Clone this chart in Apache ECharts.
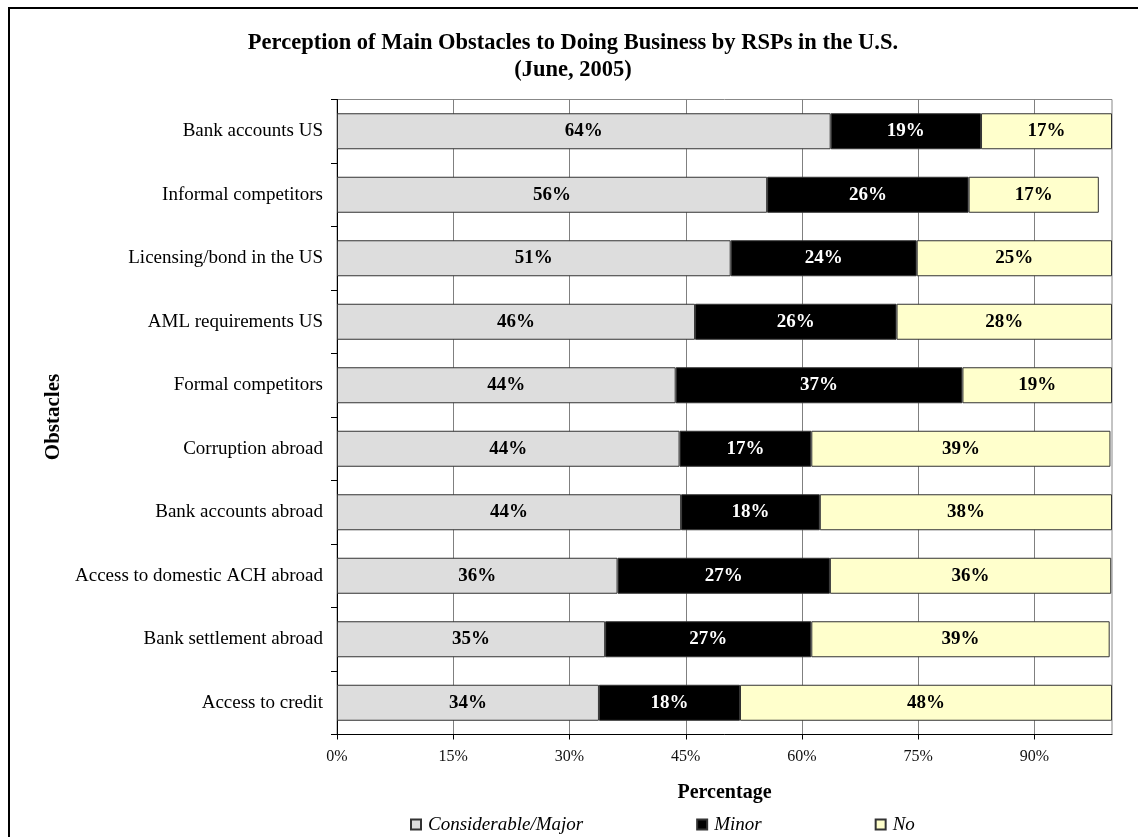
<!DOCTYPE html>
<html>
<head>
<meta charset="utf-8">
<script src="https://cdn.jsdelivr.net/npm/echarts@6/dist/echarts.min.js"></script>
<style>
html,body{margin:0;padding:0;background:#fff;}
#c{width:1138px;height:837px;}
</style>
</head>
<body>
<div id="c"></div>
<script>
const categories = ["Bank accounts US","Informal competitors","Licensing/bond in the US","AML requirements US","Formal competitors","Corruption abroad","Bank accounts abroad","Access to domestic ACH abroad","Bank settlement abroad","Access to credit"];
const considerable = [63.7, 55.5, 50.8, 46.2, 43.7, 44.2, 44.4, 36.2, 34.6, 33.8];
const minor = [19.4, 26.0, 24.0, 26.0, 37.0, 17.0, 17.9, 27.4, 26.6, 18.2];
const no = [16.9, 16.8, 25.2, 27.8, 19.3, 38.6, 37.7, 36.3, 38.5, 48.0];
const xTicks = [0, 15, 30, 45, 60, 75, 90];

const serif = '"Liberation Serif","Times New Roman",serif';
const chart = echarts.init(document.getElementById('c'), null, {renderer:'canvas'});

function seriesOf(name, data, color, textColor){
  return {
    name: name, type: 'bar', stack: 'total', data: data, barWidth: 36,
    itemStyle: {color: color, borderColor: '#333', borderWidth: 1},
    label: {show: true, position: 'inside', color: textColor,
      fontFamily: serif, fontWeight: 'bold', fontSize: 19,
      formatter: p => Math.round(p.value) + '%'},
    emphasis: {disabled: true}
  };
}

chart.setOption({
  backgroundColor: '#fff',
  animation: false,
  title: {
    text: 'Perception of Main Obstacles to Doing Business by RSPs in the U.S.\n(June, 2005)',
    left: 568, top: 25, textAlign: 'center',
    textStyle: {fontFamily: serif, fontWeight: 'bold', fontSize: 22.5, color: '#000', lineHeight: 27}
  },
  legend: {
    left: 405, top: 810, itemWidth: 10, itemHeight: 10, itemGap: 113,
    icon: 'rect',
    textStyle: {fontFamily: serif, fontStyle: 'italic', fontSize: 19, color: '#000', padding: [0,0,0,2]},
    data: ['Considerable/Major', 'Minor', 'No']
  },
  grid: {left: 337, right: 26, top: 99.5, bottom: 102.5, containLabel: false,
    show: true, borderColor: '#888', borderWidth: 1},
  xAxis: {
    type: 'value', min: 0, max: 100, interval: 15,
    name: 'Percentage', nameLocation: 'middle', nameGap: 48,
    nameTextStyle: {fontFamily: serif, fontWeight: 'bold', fontSize: 20, color: '#000'},
    axisLine: {show: true, lineStyle: {color: '#000', width: 1}},
    axisTick: {show: true, length: 5, lineStyle: {color: '#000'},
      customValues: xTicks},
    axisLabel: {fontFamily: serif, fontSize: 16, color: '#111', margin: 14,
      customValues: xTicks,
      formatter: v => v + '%'},
    splitLine: {show: true, lineStyle: {color: '#808080', width: 1}}
  },
  yAxis: {
    type: 'category', data: categories, inverse: true,
    name: 'Obstacles', nameLocation: 'middle', nameGap: 272, nameRotate: 90,
    nameTextStyle: {fontFamily: serif, fontWeight: 'bold', fontSize: 21, color: '#000'},
    axisLine: {show: true, lineStyle: {color: '#000', width: 1}},
    axisTick: {show: true, length: 6, alignWithLabel: false, lineStyle: {color: '#000'}},
    axisLabel: {fontFamily: serif, fontSize: 19, color: '#000', margin: 14},
    splitLine: {show: false}
  },
  series: [
    seriesOf('Considerable/Major', considerable, '#DDDDDD', '#000'),
    seriesOf('Minor', minor, '#000000', '#fff'),
    seriesOf('No', no, '#FFFFCC', '#000')
  ],
  graphic: [{
    type: 'rect', silent: true, z: 100,
    shape: {x: 9, y: 8, width: 1300, height: 1000},
    style: {fill: 'none', stroke: '#000', lineWidth: 2}
  }]
});
</script>
</body>
</html>
